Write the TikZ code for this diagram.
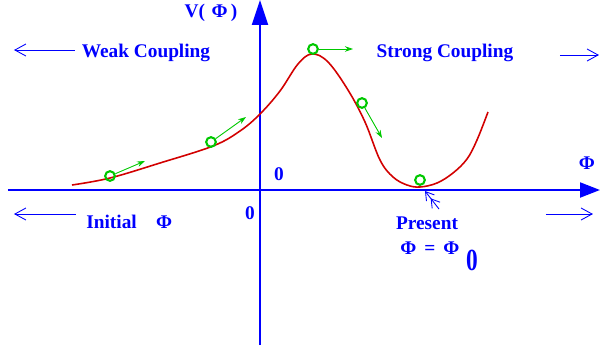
\documentclass[tikz,border=0pt]{standalone}
\usepackage{fontspec}
\setmainfont{Liberation Serif}
\usetikzlibrary{arrows.meta}

\definecolor{axisblue}{RGB}{0,0,255}
\definecolor{curvered}{RGB}{210,0,0}
\definecolor{ballgreen}{RGB}{0,200,0}

\begin{document}
\begin{tikzpicture}[x=0.02cm, y=-0.02cm,
    lbl/.style={text=axisblue, font=\fontsize{11}{13}\selectfont\bfseries, inner sep=0pt},
    ball/.style={circle, draw=ballgreen, line width=1.2pt, minimum size=5.5pt, inner sep=0pt},
    push/.style={ballgreen, line width=0.5pt, -{Stealth[length=1.6mm, width=1.1mm]}},
    hint/.style={axisblue, line width=0.5pt, -{Straight Barb[length=2.2mm, width=2.4mm]}}]
    \useasboundingbox (0,0) rectangle (600,352);

    % Axes
    \draw[axisblue, line width=1.2pt, -{Triangle[length=5mm, width=3.2mm]}] (260,345) -- (260,0);
    \draw[axisblue, line width=1.2pt, -{Triangle[length=4mm, width=3mm]}] (8,190) -- (600,190);

    % Axis labels
    \node[lbl] (vlab) at (211,13) {V(\,\,Φ\,)};
    \node[lbl] (philab) at (587,163) {Φ};
    \node[lbl] (zeroa) at (279,174) {0};
    \node[lbl] (zerob) at (250,213) {0};

    % Potential
    \draw[curvered, line width=0.9pt] plot[smooth, tension=0.6] coordinates {
        (72,185) (110,178) (160,163) (213,146) (240,131) (260,114) (280,91)
        (298,64) (312,54) (328,62) (348,90) (365,122) (380,160) (393,177)
        (407,185) (420,187) (437,183) (453,173) (467,159) (477,140) (488,112)};

    % Rolling field
    \node[ball] (b1) at (110,176) {};
    \node[ball] (b2) at (211,142) {};
    \node[ball] (b3) at (313,49) {};
    \node[ball] (b4) at (362,103) {};
    \node[ball] (b5) at (420,180) {};
    \coordinate (t1) at (145,161);
    \coordinate (t2) at (246,117);
    \coordinate (t3) at (353,49);
    \coordinate (t4) at (382,138);
    \draw[push] (b1) -- (t1);
    \draw[push] (b2) -- (t2);
    \draw[push] (b3) -- (t3);
    \draw[push] (b4) -- (t4);

    % Regions
    \node[lbl] (weak) at (146,53) {Weak Coupling};
    \node[lbl] (strong) at (445,53) {Strong Coupling};
    \node[lbl, anchor=west] (init) at (86,222) {Initial\quad Φ};
    \coordinate (w1) at (75,50);  \coordinate (w2) at (14,50);
    \coordinate (s1) at (560,55); \coordinate (s2) at (599,55);
    \coordinate (i1) at (76,214); \coordinate (i2) at (14,214);
    \coordinate (r1) at (546,214); \coordinate (r2) at (593,214);
    \draw[hint] (w1) -- (w2);
    \draw[hint] (s1) -- (s2);
    \draw[hint] (i1) -- (i2);
    \draw[hint] (r1) -- (r2);

    % Present value
    \node[lbl] (present) at (427,223) {Present};
    \node[lbl, anchor=west] (phinow) at (400,248) {Φ\, =\, Φ};
    \node[lbl, font=\fontsize{14}{16}\selectfont\bfseries] (sub) at (472,260) {\scalebox{0.95}[1.25]{0}};
    \coordinate (pmin) at (425,191);
    \coordinate (ptail) at (439,209);
    \draw[axisblue, line width=0.5pt, -{Straight Barb[length=1.6mm, width=2mm] Straight Barb[length=1.6mm, width=2mm]}] (ptail) -- (pmin);
\end{tikzpicture}
\end{document}
